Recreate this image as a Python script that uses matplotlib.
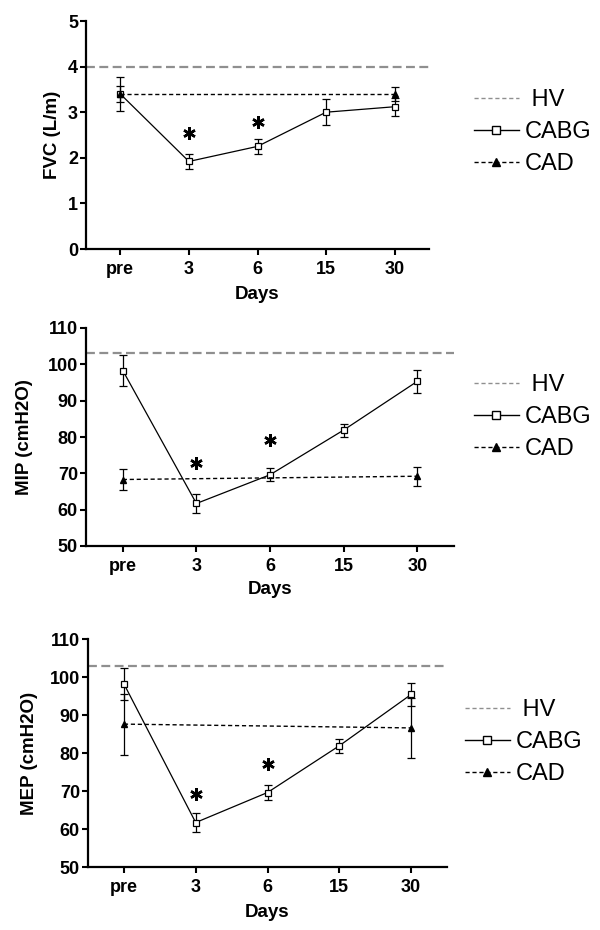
import matplotlib
matplotlib.use('Agg')
import matplotlib.pyplot as plt
from matplotlib.lines import Line2D

plt.rcParams['font.family'] = ['Liberation Sans', 'DejaVu Sans']

# ---------------- data ----------------
days = ['pre', '3', '6', '15', '30']
cad_days = ['pre', '30']
star_days = ['3', '6']

fvc_cabg = [3.40, 1.92, 2.25, 3.00, 3.12]
fvc_cabg_err = [0.38, 0.17, 0.17, 0.28, 0.20]
fvc_cad = [3.40, 3.40]
fvc_cad_err = [0.18, 0.15]
fvc_hv = 4.0
fvc_star = [2.54, 2.79]

mip_cabg = [98.3, 61.7, 69.6, 81.9, 95.3]
mip_cabg_err = [4.2, 2.6, 1.8, 1.8, 3.1]
mip_cad = [68.3, 69.2]
mip_cad_err = [2.8, 2.6]
mip_hv = 103.2
mip_star = [72.8, 79.2]

mep_cabg = [98.2, 61.7, 69.6, 81.9, 95.4]
mep_cabg_err = [4.2, 2.5, 1.9, 1.8, 3.1]
mep_cad = [87.6, 86.6]
mep_cad_err = [8.0, 7.9]
mep_hv = 102.9
mep_star = [69.3, 77.1]

ylabels = ['FVC (L/m)', 'MIP (cmH2O)', 'MEP (cmH2O)']
xlabel = 'Days'
legend_labels = [' HV', 'CABG', 'CAD']

# ---------------- layout ----------------
W, H = 600, 930
fig = plt.figure(figsize=(6, 9.3), dpi=100)

panels = [
    dict(px=(86, 429, 21, 249), ylim=(0, 5), yticks=[0, 1, 2, 3, 4, 5],
         cabg=fvc_cabg, cabg_err=fvc_cabg_err, cad=fvc_cad, cad_err=fvc_cad_err,
         hv=fvc_hv, star=fvc_star, ylab=ylabels[0], ylx=-0.099,
         leg=(474, 132)),
    dict(px=(86, 454, 328, 546), ylim=(50, 110), yticks=[50, 60, 70, 80, 90, 100, 110],
         cabg=mip_cabg, cabg_err=mip_cabg_err, cad=mip_cad, cad_err=mip_cad_err,
         hv=mip_hv, star=mip_star, ylab=ylabels[1], ylx=-0.166,
         leg=(474, 417)),
    dict(px=(88, 447, 639, 867), ylim=(50, 110), yticks=[50, 60, 70, 80, 90, 100, 110],
         cabg=mep_cabg, cabg_err=mep_cabg_err, cad=mep_cad, cad_err=mep_cad_err,
         hv=mep_hv, star=mep_star, ylab=ylabels[2], ylx=-0.162,
         leg=(465, 742)),
]

for p in panels:
    l, r, t, b = p['px']
    ax = fig.add_axes([l / W, 1 - b / H, (r - l) / W, (b - t) / H])

    # HV reference
    ax.axhline(p['hv'], color='#8f8f8f', lw=1.6, dashes=(4, 2), zorder=1)

    # CABG
    ax.errorbar(days, p['cabg'], yerr=p['cabg_err'], color='black', lw=0.9,
                elinewidth=0.9, capsize=3.2, capthick=0.9, marker='s',
                markersize=4.2, markerfacecolor='white', markeredgecolor='black',
                markeredgewidth=0.9, zorder=3)
    # CAD
    ax.errorbar(cad_days, p['cad'], yerr=p['cad_err'], color='black', lw=1.0,
                dashes=(3, 2), elinewidth=0.9, capsize=3.2, capthick=0.9,
                marker='^', markersize=5, markerfacecolor='black',
                markeredgecolor='black', zorder=4)

    # significance stars
    ax.plot(star_days, p['star'], linestyle='none', marker=(6, 2, 0),
            markersize=9, markeredgewidth=1.8, color='black', zorder=5)

    ax.set_xlim(-0.5, 4.5)
    ax.set_ylim(*p['ylim'])
    ax.set_yticks(p['yticks'])

    for s in ['top', 'right']:
        ax.spines[s].set_visible(False)
    for s in ['left', 'bottom']:
        ax.spines[s].set_linewidth(1.6)
    ax.tick_params(axis='both', width=1.5, length=4.3, labelsize=13)
    ax.tick_params(axis='y', pad=1.5)
    ax.tick_params(axis='x', pad=4)
    for lab in ax.get_xticklabels() + ax.get_yticklabels():
        lab.set_fontweight('bold')

    ax.set_ylabel(p['ylab'], fontsize=13.5, fontweight='bold')
    ax.yaxis.label.set_va('center')
    ax.yaxis.set_label_coords(p['ylx'], 0.5)
    ax.set_xlabel(xlabel, fontsize=13.5, fontweight='bold')
    ax.xaxis.label.set_va('center')
    ax.xaxis.set_label_coords(0.5, -0.2)

    handles = [
        Line2D([], [], color='#8f8f8f', lw=1.0, dashes=(3, 2)),
        Line2D([], [], color='black', lw=1.0, marker='s', markersize=6,
               markerfacecolor='white', markeredgecolor='black'),
        Line2D([], [], color='black', lw=1.0, dashes=(3, 2), marker='^',
               markersize=6, markerfacecolor='black'),
    ]
    lx, ly = p['leg']
    fig.legend(handles, legend_labels, loc='center left',
               bbox_to_anchor=(lx / W, 1 - ly / H), bbox_transform=fig.transFigure,
               frameon=False, borderpad=0, borderaxespad=0, handlelength=1.9,
               handletextpad=0.25, labelspacing=0.42, fontsize=17)

fig.savefig('out.png', dpi=100)
